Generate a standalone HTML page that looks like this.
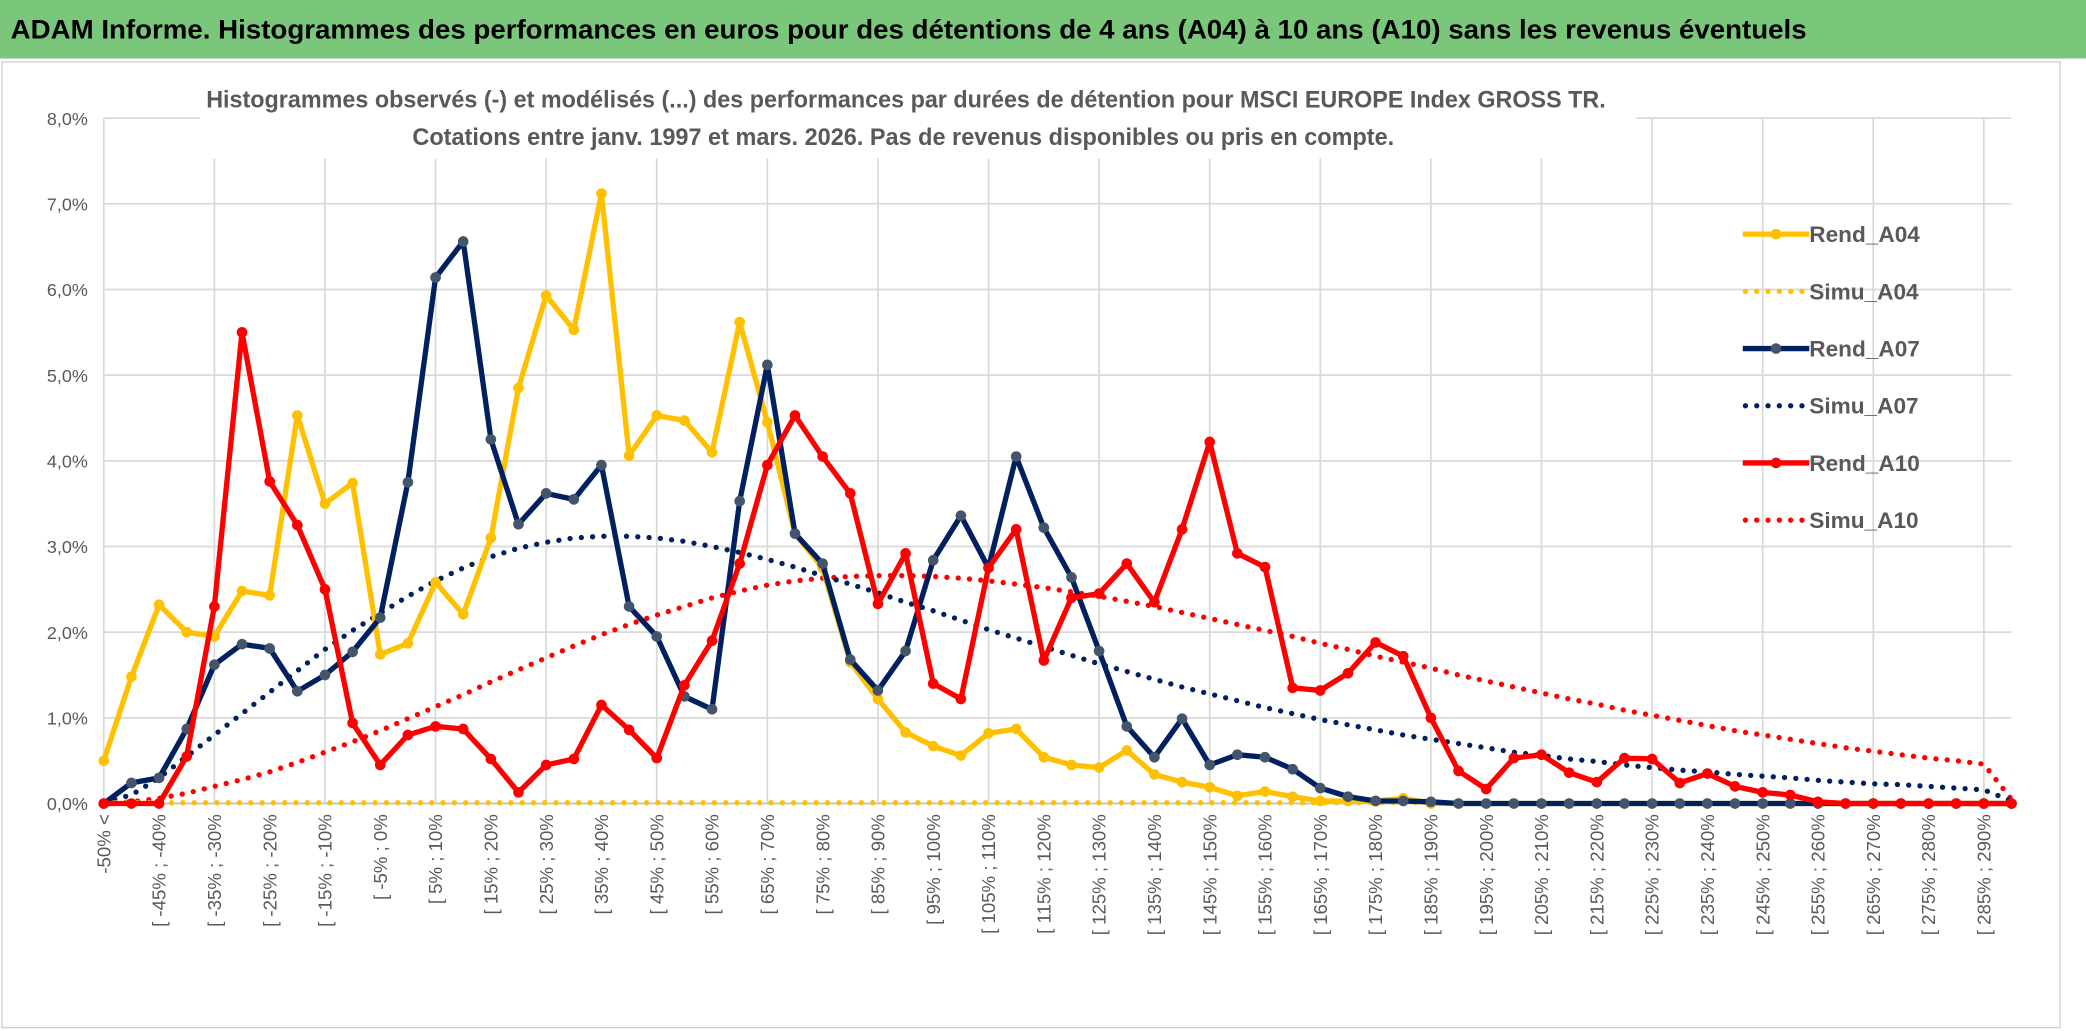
<!DOCTYPE html>
<html><head><meta charset="utf-8"><style>
html,body{margin:0;padding:0;background:#fff;}
svg{display:block;font-family:"Liberation Sans",sans-serif;}
</style></head><body>
<svg id="c" width="2086" height="1031" viewBox="0 0 1568 775" preserveAspectRatio="none" xmlns="http://www.w3.org/2000/svg">
<rect x="0" y="0" width="1568" height="775" fill="#fff"/>
<rect x="0" y="0" width="1568" height="44" fill="#7ac67b"/>
<text x="8" y="29" font-size="20" font-weight="bold" fill="#000" textLength="1350" lengthAdjust="spacingAndGlyphs">ADAM Informe. Histogrammes des performances en euros pour des détentions de 4 ans (A04) à 10 ans (A10) sans les revenus éventuels</text>
<rect x="1.5" y="46.5" width="1547" height="726" fill="none" stroke="#d0d0d0"/>
<g id="grid"></g>
<rect x="150" y="55" width="1080" height="64" fill="#fff"/>
<text x="155" y="81" font-size="18" font-weight="bold" fill="#595959" textLength="1052" lengthAdjust="spacingAndGlyphs">Histogrammes observés (-) et modélisés (...) des performances par durées de détention pour MSCI EUROPE Index GROSS TR.</text>
<text x="310" y="109" font-size="18" font-weight="bold" fill="#595959" textLength="738" lengthAdjust="spacingAndGlyphs">Cotations entre janv. 1997 et mars. 2026. Pas de revenus disponibles ou pris en compte.</text>
<g id="axes"></g>
<g id="series"></g>
<g id="legend"></g>
</svg>
<script>
const rendA04=[0.5,1.48,2.32,2.0,1.95,2.48,2.43,4.53,3.5,3.74,1.74,1.87,2.58,2.21,3.1,4.85,5.93,5.53,7.12,4.06,4.53,4.47,4.1,5.62,4.45,3.15,2.75,1.65,1.22,0.83,0.67,0.56,0.82,0.87,0.54,0.45,0.42,0.62,0.34,0.25,0.19,0.09,0.14,0.08,0.03,0.03,0.03,0.06,0,0,0,0,0,0,0,0,0,0,0,0,0,0,0,0,0,0,0,0,0,0];
const simuA04=[0.01,0.01,0.01,0.01,0.01,0.01,0.01,0.01,0.01,0.01,0.01,0.01,0.01,0.01,0.01,0.01,0.01,0.01,0.01,0.01,0.01,0.01,0.01,0.01,0.01,0.01,0.01,0.01,0.01,0.01,0.01,0.01,0.01,0.01,0.01,0.01,0.01,0.01,0.01,0.01,0.01,0.01,0.01,0.01,0.01,0.01,0.01,0.01,0.01,0,0,0,0,0,0,0,0,0,0,0,0,0,0,0,0,0,0,0,0,0];
const rendA07=[0,0.24,0.3,0.87,1.62,1.86,1.81,1.31,1.5,1.77,2.17,3.75,6.14,6.56,4.25,3.26,3.62,3.55,3.95,2.3,1.95,1.25,1.1,3.53,5.12,3.15,2.8,1.68,1.32,1.78,2.84,3.36,2.75,4.05,3.22,2.64,1.78,0.9,0.54,0.99,0.45,0.57,0.54,0.4,0.18,0.08,0.03,0.03,0.02,0,0,0,0,0,0,0,0,0,0,0,0,0,0,0,0,0,0,0,0,0];
const simuA07=[0.02,0.1,0.3,0.55,0.8,1.05,1.3,1.55,1.8,2.02,2.22,2.42,2.6,2.75,2.88,2.98,3.05,3.1,3.12,3.12,3.1,3.06,3.0,2.93,2.85,2.76,2.66,2.56,2.46,2.35,2.25,2.14,2.03,1.93,1.83,1.73,1.63,1.54,1.45,1.36,1.28,1.2,1.12,1.05,0.98,0.92,0.86,0.8,0.75,0.7,0.65,0.6,0.56,0.52,0.49,0.45,0.42,0.39,0.37,0.34,0.32,0.3,0.27,0.25,0.23,0.22,0.2,0.18,0.16,0.03];
const rendA10=[0,0,0,0.55,2.3,5.5,3.76,3.25,2.5,0.94,0.45,0.8,0.9,0.87,0.52,0.13,0.45,0.52,1.15,0.86,0.53,1.38,1.9,2.8,3.95,4.53,4.05,3.62,2.33,2.92,1.4,1.22,2.75,3.2,1.67,2.4,2.45,2.8,2.35,3.2,4.22,2.92,2.76,1.35,1.32,1.52,1.88,1.72,1.0,0.38,0.17,0.53,0.57,0.36,0.25,0.53,0.52,0.24,0.35,0.2,0.13,0.1,0.02,0,0,0,0,0,0,0];
const simuA10=[0,0.02,0.06,0.12,0.2,0.28,0.37,0.48,0.6,0.72,0.85,0.99,1.13,1.27,1.42,1.56,1.7,1.84,1.97,2.09,2.2,2.3,2.4,2.48,2.55,2.6,2.63,2.65,2.66,2.66,2.65,2.63,2.6,2.56,2.52,2.47,2.42,2.36,2.3,2.23,2.16,2.09,2.02,1.95,1.87,1.8,1.72,1.65,1.58,1.5,1.43,1.36,1.29,1.22,1.16,1.09,1.03,0.97,0.91,0.85,0.8,0.75,0.7,0.65,0.61,0.57,0.53,0.5,0.46,0.05];
const yTicks=[0,1,2,3,4,5,6,7,8];
const categories=[];
categories.push('-50% <');
for(let k=1;k<70;k++){const a=-50+5*(k-1);categories.push('[ '+a+'% ; '+(a+5)+'%');}

const NS='http://www.w3.org/2000/svg';
const X0=78,X1=1512,Y0=604,YPX=64.4;
function xs(i){return X0+i*(X1-X0)/(categories.length-1);}
function ys(v){return Y0-v*YPX;}
function mk(tag,attrs,parent){const e=document.createElementNS(NS,tag);for(const k in attrs)e.setAttribute(k,attrs[k]);parent.appendChild(e);return e;}
const grid=document.getElementById('grid'),axes=document.getElementById('axes'),ser=document.getElementById('series'),leg=document.getElementById('legend');

yTicks.forEach(t=>{
  if(t>0){const l=mk('line',{x1:X0,x2:X1,y1:ys(t),y2:ys(t),stroke:'#d9d9d9','stroke-width':1.3},grid);
  
  }
  const tx=mk('text',{x:66,y:ys(t)+5,'text-anchor':'end','font-size':13.5,fill:'#595959'},axes);
  tx.textContent=t.toFixed(1).replace('.',',')+'%';
  
  
});
for(let i=0;i<categories.length;i+=4){
  const l=mk('line',{x1:xs(i),x2:xs(i),y1:ys(8),y2:Y0,stroke:'#d9d9d9','stroke-width':1.3},grid);
  
  
}
const ax=mk('line',{x1:X0,x2:X1,y1:Y0,y2:Y0,stroke:'#bfbfbf','stroke-width':1.3},axes);


for(let i=0;i<categories.length;i+=2){
  const x=xs(i)+5,y=612;
  const tx=mk('text',{x:x,y:y,'text-anchor':'end','font-size':14,fill:'#595959',transform:'rotate(-90 '+x+' '+y+')'},axes);
  tx.textContent=categories[i];
  
  
}
function pts(arr){return arr.map((v,i)=>xs(i).toFixed(1)+','+ys(v).toFixed(1)).join(' ');}
function dotted(arr,color,name){
  const p=mk('polyline',{points:pts(arr),fill:'none',stroke:color,'stroke-width':4,'stroke-linecap':'round','stroke-dasharray':'0 8.5'},ser);
  
  
}
function solid(arr,color,mcol,name){
  const g=mk('g',{},ser);
  
  
  mk('polyline',{points:pts(arr),fill:'none',stroke:color,'stroke-width':4,'stroke-linejoin':'round'},g);
  arr.forEach((v,i)=>{const c=mk('circle',{cx:xs(i),cy:ys(v),r:4,fill:mcol},g);
    
    });
}
dotted(simuA10,'#ff0000','simu-a10-line');
dotted(simuA07,'#002060','simu-a07-line');
dotted(simuA04,'#ffc000','simu-a04-line');
solid(rendA04,'#ffc000','#ffc000','rend-a04-line');
solid(rendA07,'#002060','#44546a','rend-a07-line');
solid(rendA10,'#ff0000','#ff0000','rend-a10-line');

const legendItems=[['Rend_A04','#ffc000',false,'#ffc000'],['Simu_A04','#ffc000',true],['Rend_A07','#002060',false,'#44546a'],['Simu_A07','#002060',true],['Rend_A10','#ff0000',false,'#ff0000'],['Simu_A10','#ff0000',true]];
legendItems.forEach((it,k)=>{
  const y=176+k*43;
  const g=mk('g',{},leg);
  
  
  if(it[2]) mk('line',{x1:1312,x2:1360,y1:y,y2:y,stroke:it[1],'stroke-width':4,'stroke-linecap':'round','stroke-dasharray':'0 8.5'},g);
  else {mk('line',{x1:1310,x2:1360,y1:y,y2:y,stroke:it[1],'stroke-width':4},g);mk('circle',{cx:1335,cy:y,r:4,fill:it[3]},g);}
  const t=mk('text',{x:1360,y:y+6,'font-size':17,'font-weight':'bold',fill:'#595959'},g);
  t.textContent=it[0];
});
</script>
</body></html>
